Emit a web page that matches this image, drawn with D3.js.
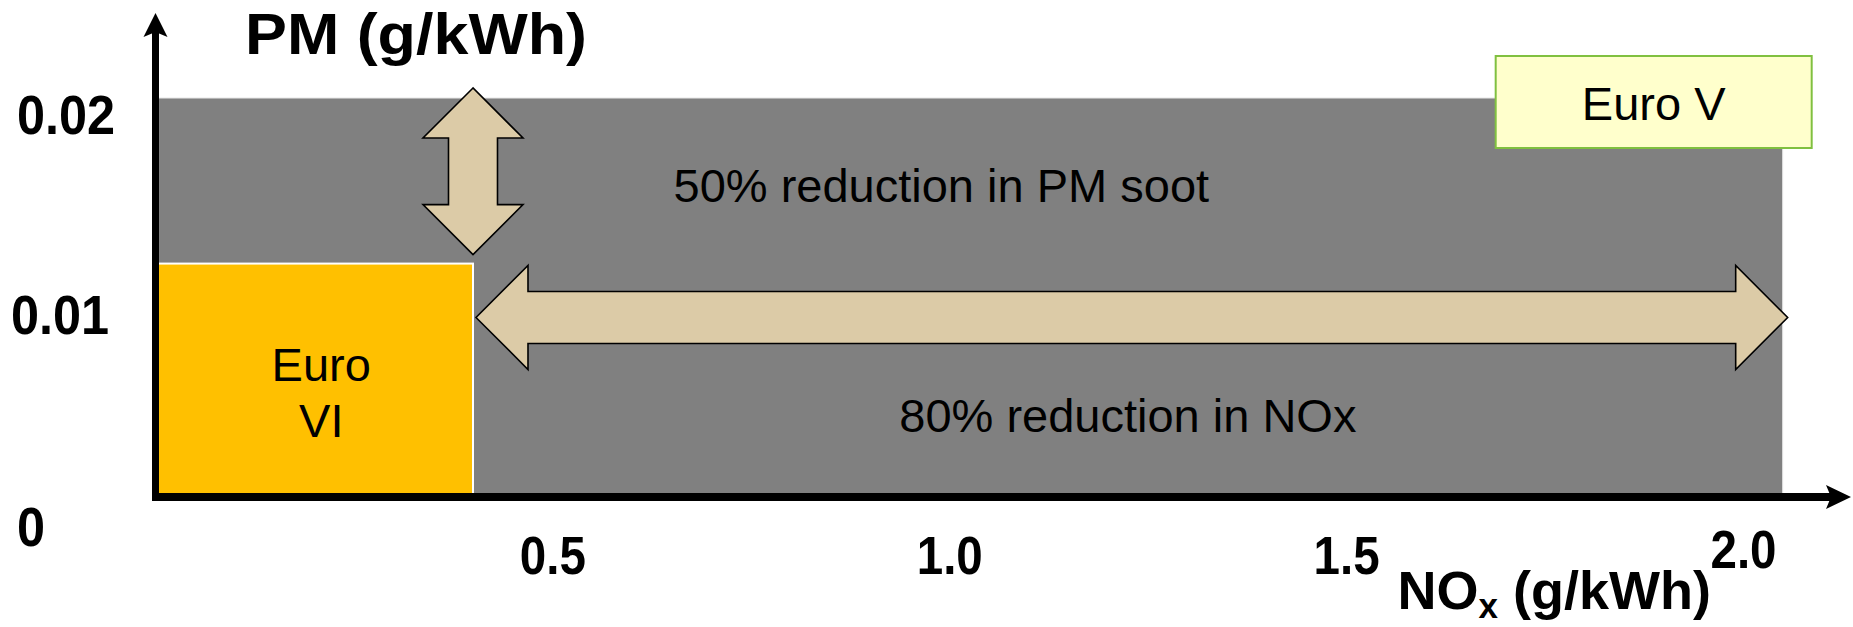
<!DOCTYPE html>
<html>
<head>
<meta charset="utf-8">
<script src="https://cdn.jsdelivr.net/npm/d3@7"></script>
<style>
  html, body { margin: 0; padding: 0; background: #ffffff; }
  svg { display: block; }
</style>
</head>
<body>
<svg id="chart" width="1853" height="627"></svg>
<script>
// Emission limit boxes: NOx (g/kWh) on x, PM (g/kWh) on y
const standards = ["Euro V", "Euro VI"];
const noxLimits = [2.05, 0.40];
const pmLimits = [0.020, 0.0117];

// Axis tick labels
const xTickValues = [0.5, 1.0, 1.5, 2.0];
const yTickValues = [0, 0.01, 0.02];

// Reduction annotations
const reductionLabels = ["50% reduction in PM soot", "80% reduction in NOx"];

const FONT = "'Liberation Sans', Arial, Helvetica, sans-serif";
const TAN = "#DCCBA7";

const svg = d3.select("#chart");

const x = d3.scaleLinear().domain([0, 2.0]).range([155.5, 1743]);
const y = d3.scaleLinear().domain([0, 0.02]).range([497, 98]);

const boxes = standards.map((name, i) => ({ name, nox: noxLimits[i], pm: pmLimits[i] }));
const euroV = boxes[0], euroVI = boxes[1];

// Limit areas
svg.append("g").selectAll("rect")
  .data(boxes)
  .join("rect")
  .attr("x", x(0))
  .attr("y", d => y(d.pm))
  .attr("width", d => x(d.nox) - x(0))
  .attr("height", d => y(0) - y(d.pm))
  .attr("fill", (d, i) => i === 0 ? "#808080" : "#FFC000")
  .attr("stroke", (d, i) => i === 0 ? "#e8e8e8" : "#ffffff")
  .attr("stroke-width", (d, i) => i === 0 ? 1 : 2);

// Double-headed block arrows between two tip points
function doubleArrow(x1, y1, x2, y2, headLen, headHalf, shaftHalf) {
  const len = Math.hypot(x2 - x1, y2 - y1);
  const ux = (x2 - x1) / len, uy = (y2 - y1) / len;
  const nx = -uy, ny = ux;
  const P = (t, s) => [x1 + ux * t + nx * s, y1 + uy * t + ny * s];
  const pts = [
    P(0, 0),
    P(headLen, headHalf), P(headLen, shaftHalf),
    P(len - headLen, shaftHalf), P(len - headLen, headHalf),
    P(len, 0),
    P(len - headLen, -headHalf), P(len - headLen, -shaftHalf),
    P(headLen, -shaftHalf), P(headLen, -headHalf)
  ];
  return "M" + pts.map(p => p.join(",")).join("L") + "Z";
}

const arrows = svg.append("g")
  .attr("fill", TAN).attr("stroke", "#000").attr("stroke-width", 1.6)
  .attr("stroke-linejoin", "miter");

// PM reduction: from the Euro V ceiling down to the Euro VI ceiling
arrows.append("path")
  .attr("d", doubleArrow(x(euroVI.nox), y(euroV.pm) - 10, x(euroVI.nox), y(euroVI.pm) - 9, 50, 50, 24.5));

// NOx reduction: from the Euro VI edge across to the Euro V edge
arrows.append("path")
  .attr("d", doubleArrow(x(euroVI.nox) + 3, y(0.009), x(euroV.nox) + 5, y(0.009), 52, 52, 26));

// Annotation texts
svg.append("text")
  .attr("x", x(0.99)).attr("y", y(0.0156)).attr("dy", "0.35em")
  .attr("text-anchor", "middle")
  .attr("font-family", FONT).attr("font-size", 47)
  .text(reductionLabels[0]);

svg.append("text")
  .attr("x", x(1.225)).attr("y", y(0.00406)).attr("dy", "0.35em")
  .attr("text-anchor", "middle")
  .attr("font-family", FONT).attr("font-size", 47)
  .text(reductionLabels[1]);

// Euro VI label inside its box
const vi = svg.append("text")
  .attr("text-anchor", "middle")
  .attr("font-family", FONT).attr("font-size", 47);
const viCx = (x(0) + x(euroVI.nox)) / 2 + 7;
const viCy = (y(0) + y(euroVI.pm)) / 2 + 12;
vi.append("tspan").attr("x", viCx).attr("y", viCy - 28).attr("dy", "0.35em").text("Euro");
vi.append("tspan").attr("x", viCx).attr("y", viCy + 28).attr("dy", "0.35em").text("VI");

// Euro V tag at the top-right corner of its box
const cx = x(euroV.nox), cy = y(euroV.pm);
svg.append("rect")
  .attr("x", cx - 287).attr("y", cy - 42)
  .attr("width", 316).attr("height", 92)
  .attr("fill", "#FFFFCC").attr("stroke", "#80C040").attr("stroke-width", 2);
svg.append("text")
  .attr("x", cx - 287 + 158).attr("y", cy - 42 + 48).attr("dy", "0.35em")
  .attr("text-anchor", "middle")
  .attr("font-family", FONT).attr("font-size", 47)
  .text(euroV.name);

// Axis lines with arrowheads
const ax = svg.append("g");
ax.append("line")
  .attr("x1", x(0)).attr("y1", y(0) + 4).attr("x2", x(0)).attr("y2", 32)
  .attr("stroke", "#000").attr("stroke-width", 7);
ax.append("path")
  .attr("d", `M${x(0)},13 L${x(0) - 12},37 L${x(0)},32 L${x(0) + 12},37 Z`)
  .attr("fill", "#000");
ax.append("line")
  .attr("x1", x(0) - 3.5).attr("y1", y(0)).attr("x2", 1832).attr("y2", y(0))
  .attr("stroke", "#000").attr("stroke-width", 8);
ax.append("path")
  .attr("d", `M1851,${y(0)} L1826,${y(0) - 12} L1831,${y(0)} L1826,${y(0) + 12} Z`)
  .attr("fill", "#000");

// Tick labels (slightly condensed bold digits)
const gx = svg.append("g")
  .attr("transform", `translate(0,${y(0)})`)
  .call(d3.axisBottom(x).tickValues(xTickValues).tickFormat(d3.format(".1f")).tickSize(0));
gx.select(".domain").remove();
gx.attr("font-family", FONT).attr("font-size", 54).attr("font-weight", "bold").attr("color", "#000");
gx.selectAll("text")
  .attr("y", d => d === 2.0 ? 52 : 58)
  .attr("dy", "0.35em")
  .attr("transform", "scale(0.88,1)");

const ySx = 0.9;
const gy = svg.append("g")
  .attr("transform", `translate(${x(0)},0)`)
  .call(d3.axisLeft(y).tickValues(yTickValues)
    .tickFormat(d => d === 0 ? "0" : d3.format(".2f")(d)).tickSize(0));
gy.select(".domain").remove();
gy.attr("font-family", FONT).attr("font-size", 56).attr("font-weight", "bold").attr("color", "#000");
gy.selectAll("text")
  .attr("text-anchor", "start")
  .attr("x", d => (d === 0.01 ? 11 : 17) / ySx - x(0) / ySx)
  .attr("y", d => d === 0 ? 29 : 16)
  .attr("dy", "0.35em")
  .attr("transform", `scale(${ySx},1)`);

// Axis titles
svg.append("text")
  .attr("x", 245).attr("y", 54)
  .attr("font-family", FONT).attr("font-size", 58).attr("font-weight", "bold")
  .attr("textLength", 342).attr("lengthAdjust", "spacingAndGlyphs")
  .text("PM (g/kWh)");

const xt = svg.append("text")
  .attr("x", 1711).attr("y", 609)
  .attr("text-anchor", "end")
  .attr("font-family", FONT).attr("font-size", 54).attr("font-weight", "bold");
xt.append("tspan").text("NO");
xt.append("tspan").attr("font-size", 35).attr("dy", 9).text("x");
xt.append("tspan").attr("dy", -9).text(" (g/kWh)");
</script>
</body>
</html>
